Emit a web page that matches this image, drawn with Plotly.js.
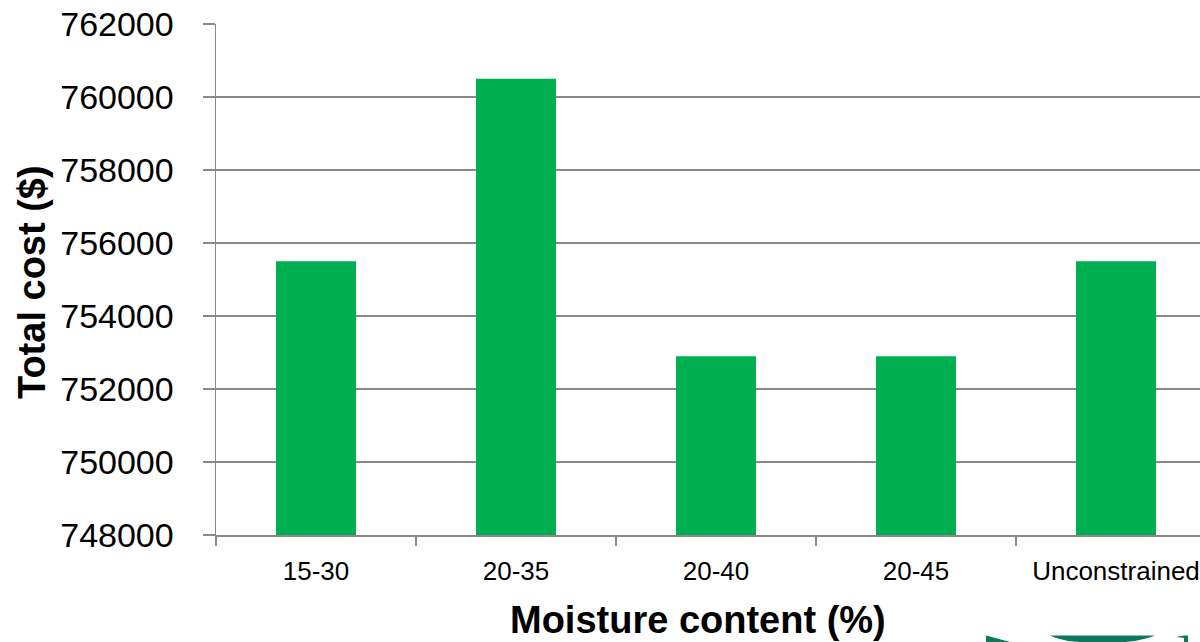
<!DOCTYPE html>
<html>
<head>
<meta charset="utf-8">
<script src="https://cdn.plot.ly/plotly-3.0.1.min.js"></script>
<style>
  html, body { margin: 0; padding: 0; background: #ffffff; overflow: hidden; }
  #chart { width: 1200px; height: 642px; }
</style>
</head>
<body>
<div id="chart"></div>
<script>
// Moisture-content ranges and the total cost of each scenario
const categories = ['15-30', '20-35', '20-40', '20-45', 'Unconstrained'];
const totalCost = [755500, 760500, 752900, 752900, 755500];

const yTickValues = [748000, 750000, 752000, 754000, 756000, 758000, 760000, 762000];
const yTickLabels = ['748000', '750000', '752000', '754000', '756000', '758000', '760000', '762000'];

const xTitle = 'Moisture content (%)';
const yTitle = 'Total cost ($)';

const W = 1200, H = 642;
const M = { l: 216, r: 0, t: 24, b: 107 };
const plotW = W - M.l - M.r;
const plotH = H - M.t - M.b;
// page pixel -> paper fraction helpers for the decorations
const px = x => (x - M.l) / plotW;
const py = y => (H - M.b - y) / plotH;

const gridGrey = '#898989';
const font = 'Liberation Sans, Arial, sans-serif';

const trace = {
  type: 'bar',
  x: categories,
  y: totalCost,
  width: 0.4,
  marker: { color: '#00b050', line: { width: 0 } },
  hoverinfo: 'x+y'
};

// corner emblem peeking in at the bottom edge
const emblem = '#0b7a5c';
function poly(points) {
  return 'M ' + points.map(p => px(p[0]) + ',' + py(p[1])).join(' L ') + ' Z';
}

const layout = {
  width: W,
  height: H,
  margin: M,
  paper_bgcolor: '#ffffff',
  plot_bgcolor: '#ffffff',
  showlegend: false,
  bargap: 0.6,
  xaxis: {
    type: 'category',
    range: [-0.5, 4.42],
    showgrid: false,
    showline: true,
    linecolor: gridGrey,
    linewidth: 1.5,
    ticks: 'outside',
    tickson: 'boundaries',
    ticklen: 9,
    tickcolor: gridGrey,
    tickwidth: 1.5,
    ticklabelstandoff: 12,
    tickfont: { family: font, size: 26, color: '#000000' },
    fixedrange: true
  },
  yaxis: {
    range: [748000, 762000],
    tickmode: 'array',
    tickvals: yTickValues,
    ticktext: yTickLabels,
    showgrid: true,
    gridcolor: gridGrey,
    gridwidth: 1.5,
    zeroline: false,
    showline: true,
    linecolor: gridGrey,
    linewidth: 1.5,
    ticks: 'outside',
    ticklen: 12,
    tickcolor: gridGrey,
    tickwidth: 1.5,
    ticklabelstandoff: 22,
    tickfont: { family: font, size: 34, color: '#000000' },
    fixedrange: true
  },
  annotations: [
    {
      text: '<b>' + xTitle + '</b>',
      xref: 'paper', yref: 'paper',
      x: px(698), y: py(620),
      xanchor: 'center', yanchor: 'middle',
      showarrow: false,
      font: { family: font, size: 38, color: '#000000' }
    },
    {
      text: '<b>' + yTitle + '</b>',
      xref: 'paper', yref: 'paper',
      x: px(32), y: py(282),
      xanchor: 'center', yanchor: 'middle',
      textangle: -90,
      showarrow: false,
      font: { family: font, size: 38, color: '#000000' }
    }
  ],
  shapes: [
    { type: 'path', xref: 'paper', yref: 'paper', line: { width: 0 }, fillcolor: emblem,
      path: poly([[986, 635.5], [1012, 642.5], [986, 642.5]]) },
    { type: 'path', xref: 'paper', yref: 'paper', line: { width: 0 }, fillcolor: emblem,
      path: poly([[1050, 635.5], [1155, 635.5], [1148, 638], [1135, 641], [1120, 642.5], [1085, 642.5], [1068, 641], [1056, 638]]) },
    { type: 'path', xref: 'paper', yref: 'paper', line: { width: 0 }, fillcolor: emblem,
      path: poly([[1176, 637], [1184, 635.5], [1188, 635.5], [1188, 642.5], [1184, 642.5], [1184, 638]]) }
  ]
};

Plotly.newPlot('chart', [trace], layout, { displayModeBar: false, staticPlot: true });
</script>
</body>
</html>
